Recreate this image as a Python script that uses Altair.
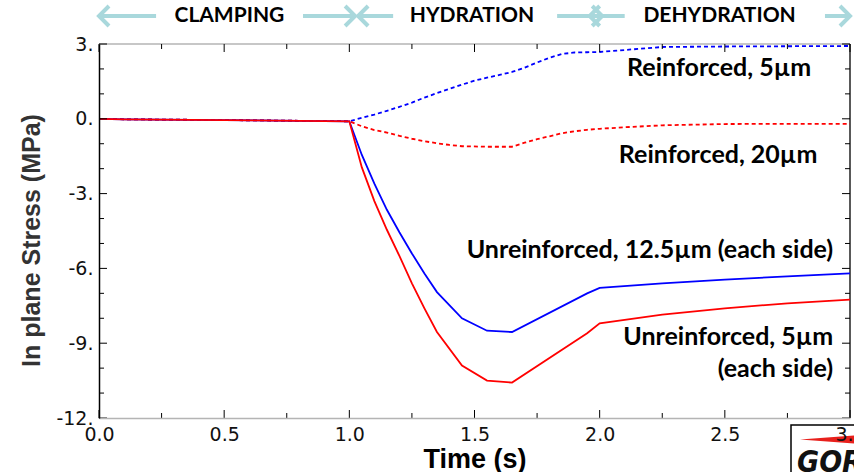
import altair as alt
import pandas as pd

# ---- stress histories: time (s) vs in-plane stress (MPa) ----
clamp_t = [0.0, 0.1, 0.5, 0.8, 1.0]
clamp_s = [0.0, -0.02, -0.05, -0.08, -0.1]

unr_t = [1.05, 1.1, 1.15, 1.2, 1.25, 1.3, 1.35, 1.45, 1.55, 1.65, 1.95, 2.0, 2.25, 2.5, 2.75, 3.0]
unr5_s = [-1.95, -3.3, -4.45, -5.5, -6.6, -7.6, -8.55, -9.9, -10.5, -10.58, -8.6, -8.2, -7.85, -7.6, -7.4, -7.25]
unr12_s = [-1.45, -2.6, -3.65, -4.55, -5.4, -6.2, -6.95, -8.0, -8.5, -8.55, -7.0, -6.78, -6.6, -6.45, -6.32, -6.2]

rein20_t = [1.05, 1.1, 1.15, 1.2, 1.25, 1.3, 1.35, 1.4, 1.45, 1.55, 1.65, 1.7, 1.75, 1.8,
            1.85, 1.9, 1.95, 2.0, 2.1, 2.25, 2.5, 2.75, 3.0]
rein20_s = [-0.3, -0.45, -0.55, -0.68, -0.8, -0.9, -0.98, -1.05, -1.1, -1.12, -1.12, -0.96, -0.82, -0.7,
            -0.58, -0.5, -0.44, -0.4, -0.34, -0.26, -0.21, -0.2, -0.2]

rein5_t = [1.05, 1.1, 1.15, 1.2, 1.25, 1.3, 1.35, 1.4, 1.45, 1.5, 1.55, 1.6, 1.65, 1.7, 1.75, 1.8,
           1.85, 1.9, 1.95, 2.0, 2.1, 2.25, 2.5, 3.0]
rein5_s = [0.04, 0.17, 0.32, 0.48, 0.65, 0.85, 1.03, 1.2, 1.37, 1.53, 1.65, 1.76, 1.88, 2.05, 2.26, 2.45,
           2.6, 2.66, 2.67, 2.68, 2.76, 2.88, 2.9, 2.92]

# ---- annotations ----
center_labels = ["Reinforced, 5µm", "Reinforced, 20µm"]
center_label_t = [2.477, 2.473]
center_label_s = [2.05, -1.44]
right_labels = ["Unreinforced, 12.5µm (each side)", "Unreinforced, 5µm", "(each side)"]
right_label_t = [2.933, 2.933, 2.933]
right_label_s = [-5.25, -8.74, -10.03]

# ---- process phases shown above the plot ----
phase_names = ["CLAMPING", "HYDRATION", "DEHYDRATION"]
phase_centers = [0.521, 1.49, 2.479]
left_arrow_head = [0.0, 1.035, 1.96]
left_arrow_tail = [0.228, 1.175, 2.10]
right_arrow_tail = [0.815, 1.83, 2.90]
right_arrow_head = [1.023, 2.01, 3.0]

# ---- axis ticks ----
x_major = [0.0, 0.5, 1.0, 1.5, 2.0, 2.5, 3.0]
x_minor = [0.25, 0.75, 1.25, 1.75, 2.25, 2.75]
y_major = [3, 0, -3, -6, -9, -12]
y_minor = [2, 1, -1, -2, -4, -5, -7, -8, -10, -11]

W, H = 751, 374
X_SCALE = alt.Scale(domain=[0, 3], nice=False, zero=False)
Y_SCALE = alt.Scale(domain=[-12, 3], nice=False, zero=False)
ARROW = "#a9d8dc"

X_AXIS = alt.Axis(values=x_major, format=".1f", ticks=False, grid=False,
                  labelFlush=False, labelOverlap=False,
                  labelFont="DejaVu Sans", labelFontSize=19, labelColor="#111111",
                  labelPadding=7, domainColor="#b4b4b4", domainWidth=1.5,
                  title="Time (s)", titleFont="Liberation Sans", titleFontSize=27,
                  titleFontWeight="bold", titleColor="#000000",
                  titleBaseline="alphabetic", titleY=49, zindex=1)
Y_AXIS = alt.Axis(values=y_major, labelExpr="datum.value + '.'", ticks=False, grid=False,
                  labelOverlap=False,
                  labelFont="DejaVu Sans", labelFontSize=19, labelColor="#111111",
                  labelPadding=6, domainColor="#000000", domainWidth=1.5,
                  title="In plane Stress (MPa)", titleFont="Liberation Sans",
                  titleFontSize=25, titleFontWeight="bold", titleColor="#333333",
                  titleAngle=-90, titleBaseline="bottom", titleX=-55, titleY=196,
                  zindex=1)


def xe(field="t"):
    return alt.X(f"{field}:Q", scale=X_SCALE, axis=X_AXIS)


def ye(field="s"):
    return alt.Y(f"{field}:Q", scale=Y_SCALE, axis=Y_AXIS)


def series(t, s):
    return pd.DataFrame({"t": clamp_t + t, "s": clamp_s + s})


def line(df, color, dash=None):
    kw = dict(color=color, strokeWidth=1.8, clip=False)
    if dash:
        kw["strokeDash"] = dash
    return alt.Chart(df).mark_line(**kw).encode(x=xe(), y=ye())


blue_dash = line(series(rein5_t, rein5_s), "#0000ff", [4, 3])
red_dash = line(series(rein20_t, rein20_s), "#ff0000", [4, 3])
blue_solid = line(series(unr_t, unr12_s), "#0000ff")
red_solid = line(series(unr_t, unr5_s), "#ff0000")

# frame: grey top edge, dark right edge
one = pd.DataFrame({"k": [0]})
frame_top = alt.Chart(one).mark_rule(color="#b4b4b4", strokeWidth=1.5).encode(
    x=alt.value(0), x2=alt.value(W), y=alt.value(0))
frame_right = alt.Chart(one).mark_rule(color="#222222", strokeWidth=1.5).encode(
    x=alt.value(W), y=alt.value(0), y2=alt.value(H))


def xticks(vals, y0, y1):
    return alt.Chart(pd.DataFrame({"t": vals})).mark_rule(color="#000000", strokeWidth=1).encode(
        x=xe(), y=alt.value(y0), y2=alt.value(y1))


def yticks(vals, x0, x1):
    return alt.Chart(pd.DataFrame({"s": vals})).mark_rule(color="#000000", strokeWidth=1).encode(
        y=ye(), x=alt.value(x0), x2=alt.value(x1))


ticks = [
    xticks(x_major, H, H - 8), xticks(x_minor, H, H - 5),
    xticks(x_major, 0, 8), xticks(x_minor, 0, 5),
    yticks(y_major, 0, 8), yticks(y_minor, 0, 5),
    yticks(y_major, W, W - 8), yticks(y_minor, W, W - 5),
]

# curve annotations
ann_center = alt.Chart(pd.DataFrame({"t": center_label_t, "s": center_label_s, "txt": center_labels})).mark_text(
    font="Lato", fontWeight="bold", fontSize=25, color="#000000", align="center", baseline="middle"
).encode(x=xe(), y=ye(), text="txt:N")

ann_right = alt.Chart(pd.DataFrame({"t": right_label_t, "s": right_label_s, "txt": right_labels})).mark_text(
    font="Lato", fontWeight="bold", fontSize=25, color="#000000", align="right", baseline="middle"
).encode(x=xe(), y=ye(), text="txt:N")

# phase banner above the plot
ARROW_Y = -28
phase_text = alt.Chart(pd.DataFrame({"t": phase_centers, "name": phase_names})).mark_text(
    font="Lato", fontWeight="bold", fontSize=21, color="#000000", align="center", baseline="middle"
).encode(x=xe(), y=alt.value(ARROW_Y), text="name:N")

left_shafts = alt.Chart(pd.DataFrame({"t": left_arrow_head, "b": left_arrow_tail})).mark_rule(
    color=ARROW, strokeWidth=4).encode(x=xe(), x2="b:Q", y=alt.value(ARROW_Y))
right_shafts = alt.Chart(pd.DataFrame({"t": right_arrow_tail, "b": right_arrow_head})).mark_rule(
    color=ARROW, strokeWidth=4).encode(x=xe(), x2="b:Q", y=alt.value(ARROW_Y))
left_heads = alt.Chart(pd.DataFrame({"t": left_arrow_head})).mark_point(
    shape="M 1 -1 L 0 0 L 1 1", filled=False, stroke=ARROW, strokeWidth=4, size=400, opacity=1).encode(
    x=xe(), y=alt.value(ARROW_Y))
right_heads = alt.Chart(pd.DataFrame({"t": right_arrow_head})).mark_point(
    shape="M -1 -1 L 0 0 L -1 1", filled=False, stroke=ARROW, strokeWidth=4, size=400, opacity=1).encode(
    x=xe(), y=alt.value(ARROW_Y))

# company badge in the lower right corner
badge_box = alt.Chart(one).mark_rect(fill="#ffffff", stroke="#000000", strokeWidth=1.5).encode(
    x=alt.value(692), x2=alt.value(780), y=alt.value(381), y2=alt.value(440))
badge_swoosh = alt.Chart(one).mark_point(
    shape="M -1 -0.05 L 1 -0.2 L 1 0.1 Z", filled=True, color="#e8201c", size=3600, opacity=1).encode(
    x=alt.value(731), y=alt.value(397))
badge_text = alt.Chart(one).mark_text(
    text="GORE", font="DejaVu Sans Condensed, Liberation Sans", fontWeight="bold", fontStyle="italic",
    fontSize=30, color="#111111", align="left", baseline="alphabetic").encode(
    x=alt.value(698), y=alt.value(428))

chart = alt.layer(
    frame_top, frame_right,
    badge_box, badge_swoosh, badge_text,
    blue_dash, red_dash, blue_solid, red_solid,
    *ticks,
    ann_center, ann_right,
    left_shafts, right_shafts, left_heads, right_heads, phase_text,
).properties(
    width=W, height=H,
    padding={"left": 99, "top": 44, "right": 4, "bottom": 54},
    autosize=alt.AutoSizeParams(type="none"),
    background="#ffffff",
).configure_view(stroke=None)

chart.save("out.html", embed_options={"renderer": "svg", "actions": False})
